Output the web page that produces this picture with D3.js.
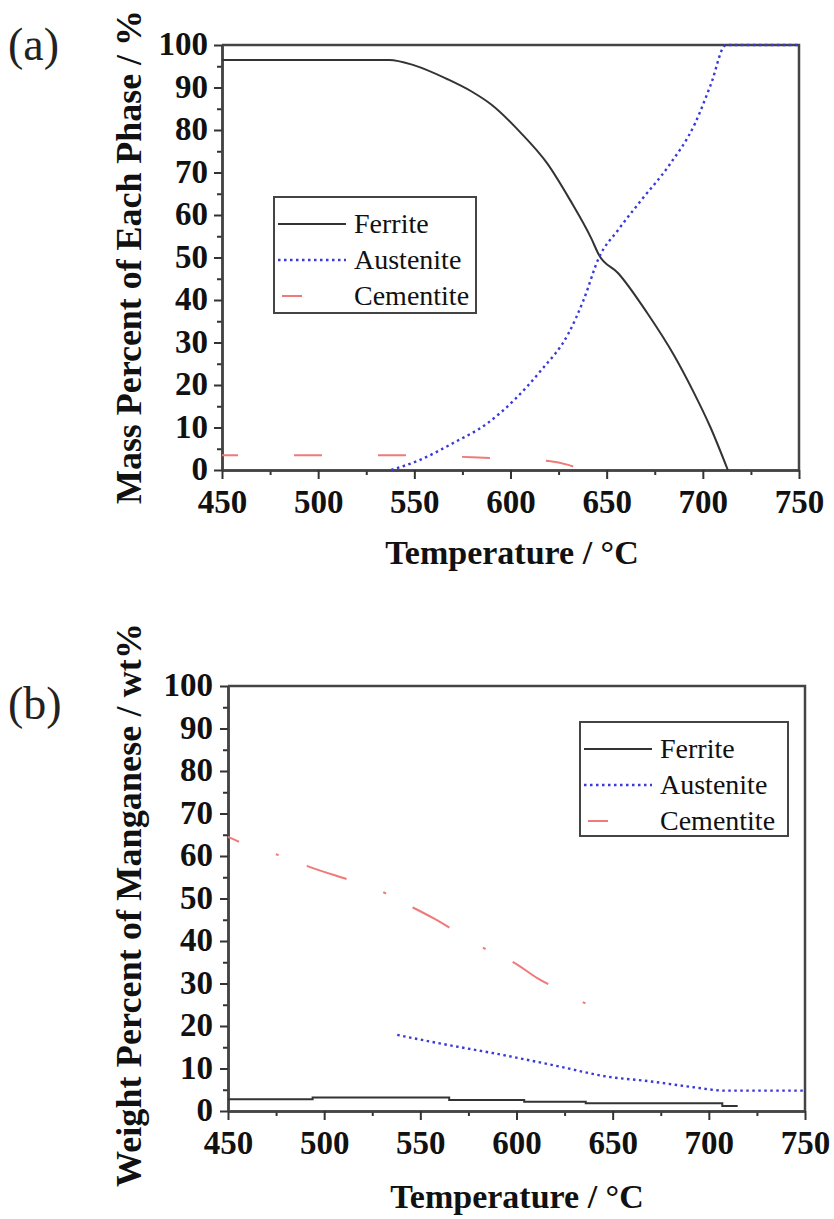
<!DOCTYPE html>
<html>
<head>
<meta charset="utf-8">
<script src="https://cdn.jsdelivr.net/npm/d3@7"></script>
<style>
  body { margin: 0; background: #fff; }
  svg { display: block; }
</style>
</head>
<body>
<div id="chart"></div>
<script>
// ---- data ----
var seriesNames = ['Ferrite', 'Austenite', 'Cementite'];
var xTicks = [450, 500, 550, 600, 650, 700, 750];
var yTicks = [0, 10, 20, 30, 40, 50, 60, 70, 80, 90, 100];

// (a) mass percent of each phase, [temperature, %]
var ferriteA = [[450,96.5],[537,96.5],[550,95.2],[567,92],[580,89],[590,86],[605,79.5],[619,72.2],
  [631,63.5],[642,54.5],[646,50.6],[656,46.3],[671,37],[685,27],[695,18.5],[704,10],[713,0]];
var austeniteA = [[538,0],[553,2.4],[570,6.3],[588,11],[602,16.5],[616,23.5],[630,32],[638,40],
  [646,50],[656,56.5],[668,63.5],[682,71.4],[696,81.6],[704,90.5],[712,100],[750,100]];
var cementiteA = [[450,3.5],[540,3.5],[560,3.3],[580,3],[600,2.6],[620,2.1],[630,1.2],[636,0.3]];

// (b) weight percent of manganese, [temperature, wt%]
var ferriteB = [[450,2.75],[494,3.2],[565,2.6],[604,2.2],[636,1.8],[707,1.2],[715,1.2]];
var austeniteB = [[538,17.9],[559,16],[595,13],[622,10.5],[647,8.1],[669,7],[692,5.6],[708,4.8],[750,4.8]];
var cementiteB = [[450,64.5],[462,62.2],[479,59.8],[492,57.5],[518,53.6],[532,51.2],[540,49.3],
  [557,45.3],[573,41],[588,37.1],[598,35.1],[611,31.2],[626,27.7],[647,22.5]];

var W = 834, H = 1219;
var serif = '"Liberation Serif", "Times New Roman", serif';

var svg = d3.select('#chart').append('svg')
  .attr('width', W).attr('height', H);

var styles = {
  Ferrite:   { stroke: '#333', width: 2, dash: null },
  Austenite: { stroke: '#3a3ad8', width: 2.4, dash: '2.5,3.5' },
  Cementite: { stroke: '#f07a7a', width: 2, dash: null }
};

function drawPanel(p) {
  var g = svg.append('g');
  var x = d3.scaleLinear().domain([450, 750]).range([p.left, p.right]);
  var y = d3.scaleLinear().domain([0, 100]).range([p.bottom, p.top]);

  // minor ticks
  g.append('g').attr('transform', 'translate(0,' + p.bottom + ')')
    .call(d3.axisBottom(x).tickValues(d3.range(475, 750, 50)).tickSize(5).tickSizeOuter(0).tickFormat(''));
  g.append('g').attr('transform', 'translate(' + p.left + ',0)')
    .call(d3.axisLeft(y).tickValues(d3.range(5, 100, 10)).tickSize(5).tickSizeOuter(0).tickFormat(''));

  // major ticks + labels
  var xa = g.append('g').attr('transform', 'translate(0,' + p.bottom + ')')
    .call(d3.axisBottom(x).tickValues(xTicks).tickSize(9).tickSizeOuter(0).tickPadding(16));
  var ya = g.append('g').attr('transform', 'translate(' + p.left + ',0)')
    .call(d3.axisLeft(y).tickValues(yTicks).tickSize(8).tickSizeOuter(0).tickPadding(p.ypad));

  g.selectAll('.tick line').attr('stroke', '#333').attr('stroke-width', 2);
  g.selectAll('.domain').attr('stroke', '#444').attr('stroke-width', 2.5);
  g.selectAll('.tick text')
    .attr('font-family', serif).attr('font-size', 33).attr('font-weight', 'bold').attr('fill', '#111');
  xa.selectAll('.tick text').attr('dy', 0).attr('y', 43);
  ya.selectAll('.tick text').attr('dy', '0.3em');

  // top & right frame
  g.append('path')
    .attr('d', 'M' + p.left + ',' + p.top + 'H' + p.right + 'V' + p.bottom)
    .attr('fill', 'none').attr('stroke', '#444').attr('stroke-width', 2.5);

  // curves
  p.series.forEach(function (s) {
    var st = styles[s.name];
    var line = d3.line()
      .x(function (d) { return x(d[0]); })
      .y(function (d) { return y(d[1]); })
      .curve(s.curve || d3.curveMonotoneX);
    g.append('path').datum(s.data)
      .attr('d', line)
      .attr('fill', 'none')
      .attr('stroke', st.stroke)
      .attr('stroke-width', st.width)
      .attr('stroke-dasharray', s.dash || st.dash)
      .attr('stroke-dashoffset', s.offset || 0);
  });

  // legend
  var lg = p.legend;
  var leg = g.append('g');
  leg.append('rect')
    .attr('x', lg.x).attr('y', lg.y).attr('width', lg.w).attr('height', lg.h)
    .attr('fill', '#fff').attr('stroke', '#444').attr('stroke-width', 2);
  seriesNames.forEach(function (name, i) {
    var st = styles[name];
    var by = lg.y + 36 + i * 36;
    var x0 = name === 'Cementite' ? lg.x + 8 : lg.x + 4;
    var x1 = name === 'Cementite' ? lg.x + 28 : lg.x + 72;
    leg.append('line')
      .attr('x1', x0).attr('x2', x1).attr('y1', by - 9).attr('y2', by - 9)
      .attr('stroke', st.stroke).attr('stroke-width', st.width)
      .attr('stroke-dasharray', st.dash);
    leg.append('text')
      .attr('x', lg.x + 80).attr('y', by)
      .attr('font-family', serif).attr('font-size', 28).attr('fill', '#111')
      .text(name);
  });

  // axis titles and panel tag
  g.append('text')
    .attr('x', p.xtitle[0]).attr('y', p.xtitle[1])
    .attr('text-anchor', 'middle')
    .attr('font-family', serif).attr('font-size', 34).attr('font-weight', 'bold').attr('fill', '#111')
    .text('Temperature / \u00B0C');
  g.append('text')
    .attr('transform', 'translate(' + p.ytitle[0] + ',' + p.ytitle[1] + ') rotate(-90)')
    .attr('text-anchor', 'middle')
    .attr('font-family', serif).attr('font-size', 36).attr('font-weight', 'bold').attr('fill', '#111')
    .attr('textLength', p.ytitle[2]).attr('lengthAdjust', 'spacing')
    .text(p.ylabel);
  g.append('text')
    .attr('x', 8).attr('y', p.tagY)
    .attr('font-family', serif).attr('font-size', 46).attr('fill', '#222')
    .text(p.tag);
}

drawPanel({
  left: 222, right: 799, top: 45, bottom: 470, ypad: 6,
  tag: '(a)', tagY: 60,
  ylabel: 'Mass Percent of Each Phase / %',
  xtitle: [512, 564], ytitle: [141, 257, 494],
  legend: { x: 274, y: 197, w: 202, h: 116 },
  series: [
    { name: 'Ferrite', data: ferriteA },
    { name: 'Austenite', data: austeniteA },
    { name: 'Cementite', data: cementiteA, dash: '28,56', offset: 12 }
  ]
});

drawPanel({
  left: 228, right: 805, top: 686, bottom: 1111, ypad: 7,
  tag: '(b)', tagY: 719,
  ylabel: 'Weight Percent of Manganese / wt%',
  xtitle: [517, 1208], ytitle: [141, 905, 564],
  legend: { x: 580, y: 722, w: 208, h: 114 },
  series: [
    { name: 'Ferrite', data: ferriteB, curve: d3.curveStepAfter },
    { name: 'Austenite', data: austeniteB },
    { name: 'Cementite', data: cementiteB, dash: '42,39,3,30', offset: 30 }
  ]
});
</script>
</body>
</html>
